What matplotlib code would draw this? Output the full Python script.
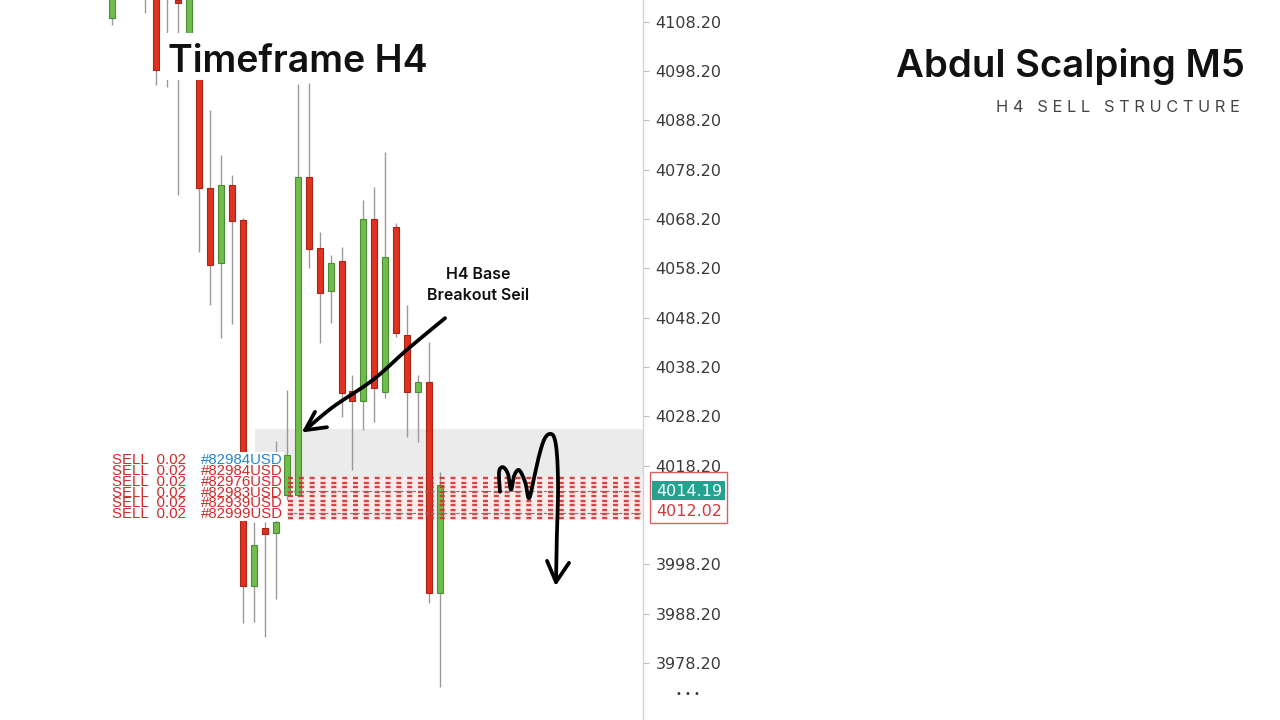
import numpy as np
import matplotlib
matplotlib.use("Agg")
import matplotlib.pyplot as plt
from matplotlib.patches import Rectangle

plt.rcParams['lines.scale_dashes'] = False
nan = np.nan

# ---------------- data ----------------
opens  = [4108.9, nan, nan, 4114.0, 4116.0, 4114.0, 4112.6, 4105.9, 4097.5, 4074.5,
          4059.3, 4075.1, 4068.0, 3993.9, 4005.6, 4004.5, 4012.3, 4012.3, 4076.7, 4062.3,
          4053.6, 4059.7, 4033.3, 4031.3, 4068.2, 4033.1, 4066.6, 4044.7, 4033.1, 4035.1,
          3992.3]
highs  = [4117.0, nan, nan, 4115.0, 4118.0, 4117.0, 4114.0, 4118.0, 4099.0, 4090.3,
          4081.1, 4077.1, 4068.4, 4006.8, 4006.8, 4023.2, 4033.6, 4095.6, 4095.8, 4065.6,
          4060.9, 4062.5, 4036.6, 4072.0, 4074.7, 4081.8, 4067.4, 4050.7, 4036.6, 4043.2,
          4016.9]
lows   = [4107.5, nan, nan, 4109.9, 4095.4, 4094.9, 4073.0, 4105.9, 4061.5, 4050.8,
          4044.1, 4047.0, 3986.3, 3986.5, 3983.5, 3991.2, 4011.2, 4011.8, 4058.3, 4043.1,
          4047.1, 4028.1, 4017.3, 4025.4, 4027.0, 4031.9, 4044.3, 4024.0, 4023.0, 3990.3,
          3973.4]
closes = [4116.0, nan, nan, 4113.0, 4098.4, 4115.0, 4112.0, 4116.0, 4074.5, 4058.9,
          4075.1, 4067.8, 3993.9, 4002.1, 4004.3, 4006.8, 4020.4, 4076.7, 4062.1, 4053.2,
          4059.3, 4032.9, 4031.3, 4068.2, 4033.9, 4060.5, 4045.1, 4033.1, 4035.1, 3992.3,
          4014.19]

tick_values = [4108.20, 4098.20, 4088.20, 4078.20, 4068.20, 4058.20, 4048.20,
               4038.20, 4028.20, 4018.20, 3998.20, 3988.20, 3978.20]

sell_lots = ["0.02", "0.02", "0.02", "0.02", "0.02", "0.02"]
sell_ids = ["#82984USD", "#82984USD", "#82976USD", "#82983USD", "#82939USD", "#82999USD"]
order_line_prices = [4015.6, 4014.7, 4013.8, 4012.9, 4012.0, 4011.1, 4010.2, 4009.3,
                     4008.4, 4007.5]
guide_line_prices = [4013.0, 4008.6]
zone_top, zone_bottom = 4025.6, 4015.9
bid_price = 4014.19
ask_price = 4012.02

# hand drawn annotations (candle index, price)
arrow1_path = [(30.47, 4048.1), (26.99, 4041.7), (23.88, 4035.6), (20.22, 4030.1), (17.66, 4025.4)]
arrow1_head = [(18.57, 4029.1), (17.66, 4025.4), (19.67, 4026.0)]
squiggle_path = [(35.50, 4012.9), (35.41, 4016.9), (35.77, 4017.9), (36.23, 4016.5),
                 (36.51, 4013.3), (36.78, 4016.1), (37.24, 4017.3), (37.79, 4014.9),
                 (38.15, 4011.6), (38.61, 4015.7), (39.07, 4020.2), (39.52, 4023.4),
                 (39.98, 4024.6), (40.44, 4024.0), (40.71, 4020.4), (40.81, 4013.3),
                 (40.71, 4005.2), (40.62, 3994.6)]
squiggle_head = [(39.80, 3998.9), (40.62, 3994.6), (41.81, 3998.5)]

# ---------------- figure ----------------
W, H = 1280, 720
fig = plt.figure(figsize=(12.8, 7.2), dpi=100)
fig.patch.set_facecolor("white")
ax = fig.add_axes([0, 0, 643 / W, 1])
ax.set_xlim(-10.25, 48.58)
ax.set_ylim(3966.65, 4112.58)
ax.set_facecolor("white")

def fx(px):
    return px / W

def fy(py):
    return 1 - py / H

GREEN, GREEN_E = "#6fbd4c", "#4c8c33"
RED, RED_E = "#e1311f", "#a82418"

o = np.array(opens); h = np.array(highs); l = np.array(lows); c = np.array(closes)
x = np.arange(len(o))
m = ~np.isnan(o)
ax.vlines(x[m], l[m], h[m], color="#9a9a9a", lw=1.0, zorder=2)
up = m & (c >= o)
dn = m & (c < o)
for sel, fc, ec in [(up, GREEN, GREEN_E), (dn, RED, RED_E)]:
    bottom = np.minimum(o[sel], c[sel])
    height = np.maximum(np.abs(c[sel] - o[sel]), 0.6)
    ax.bar(x[sel], height, bottom=bottom, width=0.55, color=fc, edgecolor=ec,
           linewidth=0.8, zorder=3)

# grey zone
ax.add_patch(Rectangle((13.08, zone_bottom), 60, zone_top - zone_bottom,
                       facecolor="#ebebeb", edgecolor="none", zorder=1))
ax.add_patch(Rectangle((16.0, order_line_prices[-1] - 0.4), 60,
                       order_line_prices[0] - order_line_prices[-1] + 0.8,
                       facecolor="#fbecec", edgecolor="none", zorder=1))

# sell order lines
for p in order_line_prices:
    ax.plot([16.1, 60], [p, p], color="#d62f2f", lw=1.7, dashes=(3.6, 4.2),
            solid_capstyle="butt", dash_capstyle="butt", zorder=4, alpha=0.9)
for p in guide_line_prices:
    ax.plot([16.0, 60], [p, p], color="#7a7a7a", lw=0.8, dashes=(2.5, 2.0), zorder=4)

# labels with white background
ax.add_patch(Rectangle((-0.18, 4007.0), 15.88, 14.0, facecolor="white",
                       edgecolor="none", zorder=5))
row0 = 4019.3
for k, (lot, sid) in enumerate(zip(sell_lots, sell_ids)):
    yv = row0 - k * 2.19
    ax.text(0.0, yv, "SELL  " + lot, color="#d12b2b", fontsize=10.8,
            family="Liberation Sans", va="center", ha="left", zorder=6)
    ax.text(8.14, yv, sid, color="#1f86d9" if k == 0 else "#d12b2b", fontsize=10.8,
            family="Liberation Sans", va="center", ha="left", zorder=6)

# smooth curve helper (Catmull-Rom)
def smooth(pts, n=12):
    P = np.array(pts, dtype=float)
    P = np.vstack([P[0], P, P[-1]])
    out = []
    for i in range(1, len(P) - 2):
        p0, p1, p2, p3 = P[i - 1], P[i], P[i + 1], P[i + 2]
        for t in np.linspace(0, 1, n, endpoint=False):
            t2, t3 = t * t, t * t * t
            out.append(0.5 * ((2 * p1) + (-p0 + p2) * t + (2 * p0 - 5 * p1 + 4 * p2 - p3) * t2
                              + (-p0 + 3 * p1 - 3 * p2 + p3) * t3))
    out.append(P[-2])
    return np.array(out)

for path, head in [(arrow1_path, arrow1_head), (squiggle_path, squiggle_head)]:
    s = smooth(path)
    ax.plot(s[:, 0], s[:, 1], color="black", lw=2.7, solid_capstyle="round",
            solid_joinstyle="round", zorder=7)
    hh = np.array(head)
    ax.plot(hh[:, 0], hh[:, 1], color="black", lw=2.7, solid_capstyle="round",
            solid_joinstyle="round", zorder=7)

ax.text(33.5, 4054.8, "H4 Base\nBreakout Seil", ha="center", va="center",
        fontsize=11.5, family="Inter", fontweight="semibold", color="#111111",
        linespacing=1.45, zorder=7)

# axis styling
for s in ["left", "top", "bottom"]:
    ax.spines[s].set_visible(False)
ax.spines["right"].set_color("#d4d4d4")
ax.spines["right"].set_linewidth(1.0)
ax.set_xticks([])
ax.yaxis.tick_right()
ax.set_yticks(tick_values)
ax.set_yticklabels([f"{v:.2f}" for v in tick_values])
ax.tick_params(axis="y", length=4, color="#bdbdbd", pad=5, labelsize=11.5,
               labelcolor="#3a3a3a")

# price boxes on the axis
fig.add_artist(Rectangle((fx(650), fy(523)), fx(77), 51 / H, transform=fig.transFigure,
                         facecolor="white", edgecolor="#e06060", lw=1.0, zorder=10))
fig.add_artist(Rectangle((fx(652), fy(500)), fx(73), 19 / H, transform=fig.transFigure,
                         facecolor="#26a08f", edgecolor="none", zorder=11))
fig.text(fx(689), fy(491), f"{bid_price:.2f}", ha="center", va="center",
         color="white", fontsize=11.5, zorder=12)
fig.text(fx(689), fy(512), f"{ask_price:.2f}", ha="center", va="center",
         color="#d23a3a", fontsize=11.5, zorder=12)
fig.text(fx(688), fy(694), "• • •", ha="center", va="center", fontsize=7,
         color="#333333")

# titles
fig.add_artist(Rectangle((fx(160), fy(80)), fx(272), 47 / H, transform=fig.transFigure,
                         facecolor="white", edgecolor="none", zorder=8))
fig.text(fx(168), fy(72), "Timeframe H4", ha="left", va="baseline", fontsize=27,
         family="Inter", fontweight="semibold", color="#111111", zorder=9)
fig.text(fx(1245), fy(77), "Abdul Scalping M5", ha="right", va="baseline",
         fontsize=27.6, family="Inter", fontweight="semibold", color="#111111")
fig.text(fx(1240), fy(112), "H 4   S E L L   S T R U C T U R E", ha="right",
         va="baseline", fontsize=11.8, family="Inter", color="#444444")

fig.savefig("out.png", dpi=100, facecolor="white")
